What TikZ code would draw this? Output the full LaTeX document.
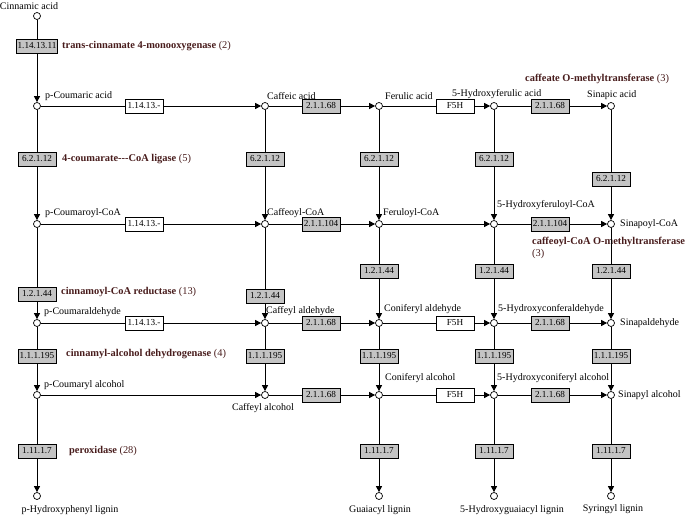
\documentclass[tikz,border=0pt]{standalone}
\usepackage{fontspec}
\setmainfont{Liberation Serif}
\usetikzlibrary{arrows.meta,positioning}
\definecolor{ecbox}{RGB}{196,196,196}
\definecolor{enzname}{RGB}{72,28,28}

\begin{document}
\begin{tikzpicture}[x=1pt,y=-1pt,font=\fontsize{10}{11}\selectfont,
  cpd/.style={circle,draw,fill=white,inner sep=0pt,minimum size=7pt,line width=0.7pt},
  ec/.style={draw,fill=ecbox,inner sep=1pt,minimum width=38pt,minimum height=14pt,line width=0.7pt,font=\fontsize{9.2}{10}\selectfont},
  ecw/.style={ec,fill=white},
  lab/.style={inner sep=0pt,anchor=west},
  enz/.style={lab,font=\fontsize{10.4}{12}\selectfont\bfseries,text=enzname,align=left},
  rx/.style={-{Triangle[length=6pt,width=6pt]},line width=0.8pt},
  ln/.style={line width=0.8pt}]
\useasboundingbox (0,0) rectangle (689,518);
% compounds
\node[cpd] (cin) at (37,16) {};
\foreach \c/\x in {1/37,2/265,3/379,4/494,5/611}{
  \node[cpd] (ac\c) at (\x,106) {};
  \node[cpd] (coa\c) at (\x,224) {};
  \node[cpd] (ald\c) at (\x,323) {};
  \node[cpd] (alc\c) at (\x,395) {};
}
\foreach \c/\x in {1/37,3/379,4/494,5/611}
  \node[cpd] (lig\c) at (\x,496) {};
% compound names
\node[inner sep=0pt] (tcin) at (29,6) {Cinnamic acid};
\node[lab] (tac1) at (45,96) {p-Coumaric acid};
\node[lab] (tac2) at (267,96) {Caffeic acid};
\node[lab] (tac3) at (385,96) {Ferulic acid};
\node[lab] (tac4) at (452,94) {5-Hydroxyferulic acid};
\node[lab] (tac5) at (587,95) {Sinapic acid};
\node[lab] (tcoa1) at (45,213) {p-Coumaroyl-CoA};
\node[lab] (tcoa2) at (267,213) {Caffeoyl-CoA};
\node[lab] (tcoa3) at (383,213) {Feruloyl-CoA};
\node[lab] (tcoa4) at (497,205) {5-Hydroxyferuloyl-CoA};
\node[lab] (tcoa5) at (620,224) {Sinapoyl-CoA};
\node[lab] (tald1) at (44,312) {p-Coumaraldehyde};
\node[lab] (tald2) at (266,311) {Caffeyl aldehyde};
\node[lab] (tald3) at (384,309) {Coniferyl aldehyde};
\node[lab] (tald4) at (498,309) {5-Hydroxyconferaldehyde};
\node[lab] (tald5) at (620,323) {Sinapaldehyde};
\node[lab] (talc1) at (44,385) {p-Coumaryl alcohol};
\node[inner sep=0pt] (talc2) at (263,408) {Caffeyl alcohol};
\node[lab] (talc3) at (385,378) {Coniferyl alcohol};
\node[lab] (talc4) at (497,378) {5-Hydroxyconiferyl alcohol};
\node[lab] (talc5) at (618,395) {Sinapyl alcohol};
\node[inner sep=0pt] (tlig1) at (70,510) {p-Hydroxyphenyl lignin};
\node[inner sep=0pt] (tlig3) at (380,510) {Guaiacyl lignin};
\node[inner sep=0pt] (tlig4) at (512,510) {5-Hydroxyguaiacyl lignin};
\node[inner sep=0pt] (tlig5) at (613,509) {Syringyl lignin};
% enzyme boxes
\node[ec] (c4h) at (37,46) {1.14.13.11};
\node[ecw] (h1) at (144,106) {1.14.13.-};
\node[ec] (m1a) at (321,106) {2.1.1.68};
\node[ecw] (f1) at (455,106) {F5H};
\node[ec] (m1b) at (550,106) {2.1.1.68};
\foreach \c/\x/\y in {1/37/159,2/265/159,3/379/159,4/494/159,5/611/179}
  \node[ec] (cl\c) at (\x,\y) {6.2.1.12};
\node[ecw] (h2) at (144,224) {1.14.13.-};
\node[ec] (m2a) at (321,224) {2.1.1.104};
\node[ec] (m2b) at (550,224) {2.1.1.104};
\foreach \c/\x/\y in {1/37/294,2/265/296,3/379/271,4/494/271,5/611/271}
  \node[ec] (cr\c) at (\x,\y) {1.2.1.44};
\node[ecw] (h3) at (144,323) {1.14.13.-};
\node[ec] (m3a) at (321,323) {2.1.1.68};
\node[ecw] (f3) at (455,323) {F5H};
\node[ec] (m3b) at (550,323) {2.1.1.68};
\foreach \c/\x in {1/37,2/265,3/379,4/494,5/611}
  \node[ec] (ad\c) at (\x,356) {1.1.1.195};
\node[ec] (m4a) at (321,395) {2.1.1.68};
\node[ecw] (f4) at (455,395) {F5H};
\node[ec] (m4b) at (550,395) {2.1.1.68};
\foreach \c/\x in {1/37,3/379,4/494,5/611}
  \node[ec] (px\c) at (\x,451) {1.11.1.7};
% enzyme names
\node[enz] (n1) at (62,46) {trans-cinnamate 4-monooxygenase {\mdseries(2)}};
\node[enz] (n2) at (62,159) {4-coumarate-{}-{}-CoA ligase {\mdseries(5)}};
\node[enz] (n3) at (525,79) {caffeate O-methyltransferase {\mdseries(3)}};
\node[enz,anchor=north west] (n4) at (532,237) {caffeoyl-CoA O-methyltransferase\\{\mdseries(3)}};
\node[enz] (n5) at (61,292) {cinnamoyl-CoA reductase {\mdseries(13)}};
\node[enz] (n6) at (66,354) {cinnamyl-alcohol dehydrogenase {\mdseries(4)}};
\node[enz] (n7) at (69,451) {peroxidase {\mdseries(28)}};
% vertical reactions
\draw[ln] (cin) -- (c4h); \draw[rx] (c4h) -- (ac1);
\foreach \c in {1,...,5}{
  \draw[ln] (ac\c) -- (cl\c); \draw[rx] (cl\c) -- (coa\c);
  \draw[ln] (coa\c) -- (cr\c); \draw[rx] (cr\c) -- (ald\c);
  \draw[ln] (ald\c) -- (ad\c); \draw[rx] (ad\c) -- (alc\c);
}
\foreach \c in {1,3,4,5}{
  \draw[ln] (alc\c) -- (px\c); \draw[rx] (px\c) -- (lig\c);
}
% horizontal reactions
\draw[ln] (ac1) -- (h1); \draw[rx] (h1) -- (ac2);
\draw[ln] (ac2) -- (m1a); \draw[rx] (m1a) -- (ac3);
\draw[ln] (ac3) -- (f1); \draw[rx] (f1) -- (ac4);
\draw[ln] (ac4) -- (m1b); \draw[rx] (m1b) -- (ac5);
\draw[ln] (coa1) -- (h2); \draw[rx] (h2) -- (coa2);
\draw[ln] (coa2) -- (m2a); \draw[rx] (m2a) -- (coa3);
\draw[rx] (coa3) -- (coa4);
\draw[ln] (coa4) -- (m2b); \draw[rx] (m2b) -- (coa5);
\draw[ln] (ald1) -- (h3); \draw[rx] (h3) -- (ald2);
\draw[ln] (ald2) -- (m3a); \draw[rx] (m3a) -- (ald3);
\draw[ln] (ald3) -- (f3); \draw[rx] (f3) -- (ald4);
\draw[ln] (ald4) -- (m3b); \draw[rx] (m3b) -- (ald5);
\draw[rx] (alc1) -- (alc2);
\draw[ln] (alc2) -- (m4a); \draw[rx] (m4a) -- (alc3);
\draw[ln] (alc3) -- (f4); \draw[rx] (f4) -- (alc4);
\draw[ln] (alc4) -- (m4b); \draw[rx] (m4b) -- (alc5);
\end{tikzpicture}
\end{document}
